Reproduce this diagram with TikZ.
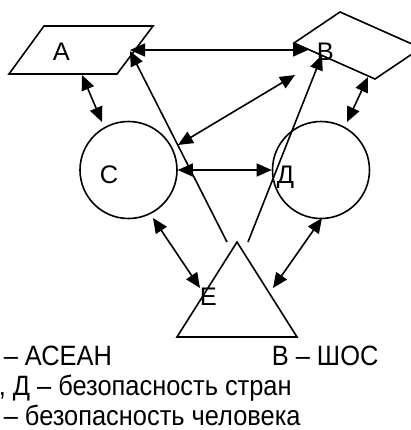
\documentclass[tikz,border=0pt]{standalone}
\usepackage{fontspec}
\setmainfont{Liberation Sans}
\usetikzlibrary{arrows.meta}

\newcommand{\tallword}[1]{\scalebox{1}[1.1]{#1}}

\begin{document}
\begin{tikzpicture}[x=1bp, y=-1bp, line width=1.6bp,
    lbl/.style={font=\fontsize{25.5}{30}\selectfont, inner sep=0pt, anchor=base west},
    ring/.style={circle, draw, minimum size=97bp, inner sep=0pt},
    both/.style={{Triangle[length=15bp, width=13bp]}-{Triangle[length=15bp, width=13bp]}},
    one/.style={-{Triangle[length=15bp, width=13bp]}}]
        \useasboundingbox (0,0) rectangle (411,430);

        % Shape A (parallelogram)
        \coordinate (A1) at (44,26);
        \coordinate (A2) at (153,26);
        \coordinate (A3) at (117,74);
        \coordinate (A4) at (9,74);
        \draw (A1) -- (A2) -- (A3) -- (A4) -- cycle;

        % Shape B (tilted rhombus, cut at the right edge)
        \coordinate (B1) at (340,12);
        \coordinate (B2) at (421,48);
        \coordinate (B3) at (375,79);
        \coordinate (B4) at (294,43);
        \draw (B1) -- (B2) -- (B3) -- (B4) -- cycle;

        % Circles C and D
        \node[ring] (C) at (128.5,170) {};
        \node[ring] (D) at (321,170) {};

        % Triangle E
        \coordinate (E1) at (237,242);
        \coordinate (E2) at (297,337);
        \coordinate (E3) at (177,337);
        \draw (E1) -- (E2) -- (E3) -- cycle;

        % Letters
        \node[lbl] (labA) at (52,60) {А};
        \node[lbl] (labB) at (316,60) {В};
        \node[lbl] (labC) at (99,183) {С};
        \node[lbl] (labD) at (276,183) {Д};
        \node[lbl] (labE) at (199,305) {Е};

        % Arrow ends
        \coordinate (pA) at (130,50);
        \coordinate (pB) at (308,50);
        \coordinate (pA2) at (82,75);
        \coordinate (pC1) at (102,122);
        \coordinate (pB2) at (368,77);
        \coordinate (pD1) at (347,122);
        \coordinate (pB3) at (295,75);
        \coordinate (pC2) at (178,145);
        \coordinate (pE1) at (227,242);
        \coordinate (pA3) at (130,51);
        \coordinate (pE2) at (248,242);
        \coordinate (pB4) at (322,55);
        \coordinate (pC3) at (153,218);
        \coordinate (pE3) at (200,288);
        \coordinate (pD2) at (322,218);
        \coordinate (pE4) at (273,288);

        % Connections
        \draw[both] (pA) -- (pB);
        \draw[both] (pA2) -- (pC1);
        \draw[both] (pB2) -- (pD1);
        \draw[both] (pB3) -- (pC2);
        \draw[both] (C.east) -- (D.west);
        \draw[one] (pE1) -- (pA3);
        \draw[one] (pE2) -- (pB4);
        \draw[both] (pC3) -- (pE3);
        \draw[both] (pD2) -- (pE4);

        % Legend
        \node[lbl] (t1) at (3,365) {\tallword{– АСЕАН}};
        \node[lbl] (t2) at (271,365) {\tallword{В – ШОС}};
        \node[lbl] (t3) at (-2,395) {\tallword{, Д – безопасность стран}};
        \node[lbl] (t4) at (3,425) {\tallword{– безопасность человека}};
    \end{tikzpicture}
\end{document}
